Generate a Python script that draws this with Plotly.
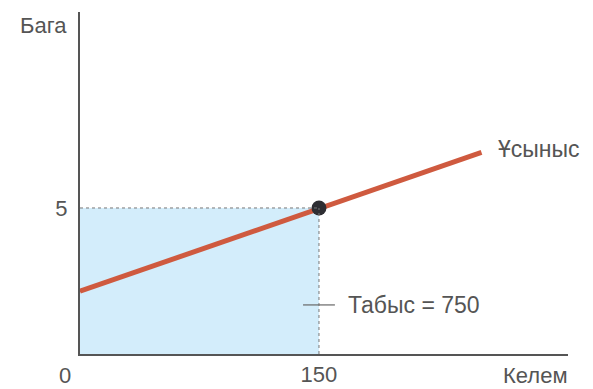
import plotly.graph_objects as go

# Data
supply_q = [0, 150, 252]
supply_p = [2.15, 5, 6.9]
eq_q = [150]
eq_p = [5]
revenue_label = "Табыс = 750"
x_ticks = [150]
y_ticks = [5]
x_title = "Келем"
y_title = "Бага"
curve_name = "Ұсыныс"

FONT = "Liberation Sans, Arial, sans-serif"
GRAY = "#555555"
FS = 22

fig = go.Figure()

# revenue rectangle
fig.add_shape(type="rect", xref="x", yref="y", x0=0, y0=0, x1=eq_q[0], y1=eq_p[0],
              fillcolor="#d3edfb", line=dict(width=0), layer="below")
fig.add_shape(type="line", xref="x", yref="y", x0=0, y0=eq_p[0], x1=eq_q[0], y1=eq_p[0],
              line=dict(color="#777", width=1, dash="dot"))
fig.add_shape(type="line", xref="x", yref="y", x0=eq_q[0], y0=0, x1=eq_q[0], y1=eq_p[0],
              line=dict(color="#777", width=1, dash="dot"))
# small pointer mark
fig.add_shape(type="line", xref="x", yref="y", x0=140, y0=1.68, x1=160, y1=1.68,
              line=dict(color="#666", width=1.2))

fig.add_trace(go.Scatter(x=supply_q, y=supply_p, mode="lines",
                         line=dict(color="#cf5a3f", width=5), hoverinfo="skip"))
fig.add_trace(go.Scatter(x=eq_q, y=eq_p, mode="markers",
                         marker=dict(color="#2e2e33", size=15), hoverinfo="skip"))

fig.add_annotation(x=168, y=1.68, xref="x", yref="y", text=revenue_label, showarrow=False,
                   xanchor="left", yanchor="middle", xshift=-2,
                   font=dict(family=FONT, size=23, color=GRAY))
fig.add_annotation(x=supply_q[-1], y=supply_p[-1], xref="x", yref="y", text=curve_name,
                   showarrow=False, xanchor="left", yanchor="middle", xshift=15, yshift=3,
                   font=dict(family=FONT, size=23, color=GRAY))
fig.add_annotation(x=0, y=0, xref="x", yref="y", text="0", showarrow=False,
                   xanchor="center", yanchor="middle", xshift=-15, yshift=-21,
                   font=dict(family=FONT, size=FS, color=GRAY))
fig.add_annotation(x=1, y=0, xref="paper", yref="y", text=x_title, showarrow=False,
                   xanchor="right", yanchor="middle", xshift=2, yshift=-21,
                   font=dict(family=FONT, size=FS, color=GRAY))
fig.add_annotation(x=0, y=1, xref="paper", yref="paper", text=y_title, showarrow=False,
                   xanchor="right", yanchor="middle", xshift=-11, yshift=-13,
                   font=dict(family=FONT, size=FS, color=GRAY))

# page body adds an 8px offset; size the figure so the plot lands where the reference has it
fig.update_layout(
    width=585, height=381,
    margin=dict(l=72, r=25, t=4, b=35),
    paper_bgcolor="white", plot_bgcolor="white",
    showlegend=False,
    xaxis=dict(range=[0, 306.3], showgrid=False, zeroline=False, showline=True,
               linecolor="#555", linewidth=2, tickvals=x_ticks, ticks="", automargin=False,
               ticklabelstandoff=0, tickfont=dict(family=FONT, size=FS, color=GRAY)),
    yaxis=dict(range=[0, 11.71], showgrid=False, zeroline=False, showline=True,
               linecolor="#555", linewidth=2, tickvals=y_ticks, ticks="", automargin=False,
               ticklabelstandoff=6, tickfont=dict(family=FONT, size=FS, color=GRAY)),
)

fig.write_html("out.html")
